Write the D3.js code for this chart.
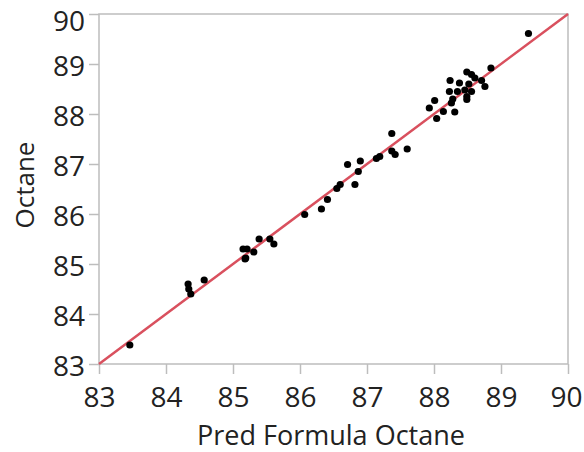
<!DOCTYPE html>
<html>
<head>
<meta charset="utf-8">
<script src="https://cdn.jsdelivr.net/npm/d3@7"></script>
<style>
  html, body { margin: 0; padding: 0; background: #fff; }
  svg { display: block; }
  .tick text { font-family: "Open Sans", "Noto Sans", sans-serif; }
</style>
</head>
<body>
<svg id="chart" width="584" height="452"></svg>
<script>
// Predicted octane from the formula column vs. measured octane
const predOctane = [
  83.46, 84.33, 84.34, 84.37, 84.57,
  85.15, 85.19, 85.21, 85.31, 85.39, 85.55, 85.61, 85.18,
  86.07, 86.32, 86.41, 86.55, 86.60, 86.71, 86.82, 86.87, 86.90,
  87.14, 87.19, 87.37, 87.37, 87.42, 87.60,
  87.93, 88.01, 88.04, 88.14, 88.23, 88.24, 88.26, 88.31, 88.35, 88.38,
  88.46, 88.49, 88.49, 88.49, 88.56, 88.56, 88.61, 88.71, 88.76, 88.85,
  88.28, 88.52, 89.41
];
const octane = [
  83.38, 84.60, 84.50, 84.40, 84.68,
  85.30, 85.12, 85.30, 85.24, 85.50, 85.50, 85.40, 85.10,
  85.99, 86.10, 86.29, 86.51, 86.59, 86.99, 86.59, 86.85, 87.06,
  87.11, 87.15, 87.61, 87.26, 87.19, 87.30,
  88.12, 88.27, 87.91, 88.05, 88.45, 88.67, 88.22, 88.04, 88.45, 88.62,
  88.48, 88.84, 88.35, 88.29, 88.79, 88.45, 88.72, 88.67, 88.55, 88.92,
  88.30, 88.60, 89.61
];
const xTicks = [83, 84, 85, 86, 87, 88, 89, 90];
const yTicks = [83, 84, 85, 86, 87, 88, 89, 90];
const lineEnds = [83, 90];

const svg = d3.select("#chart");
const plotLeft = 99, plotRight = 568, plotTop = 14, plotBottom = 364;

const x = d3.scaleLinear().domain([83, 90]).range([plotLeft, plotRight]);
const y = d3.scaleLinear().domain([83, 90]).range([plotBottom, plotTop]);

const gridColor = "#bdbdbd";
const textColor = "#222";

// plot frame
svg.append("rect")
  .attr("x", plotLeft).attr("y", plotTop)
  .attr("width", plotRight - plotLeft).attr("height", plotBottom - plotTop)
  .attr("fill", "none").attr("stroke", gridColor).attr("stroke-width", 1.5);

// axes
const xAxis = svg.append("g")
  .attr("transform", `translate(0,${plotBottom})`)
  .call(d3.axisBottom(x).tickValues(xTicks).tickFormat(d3.format("d")).tickSize(10).tickPadding(13));
const yAxis = svg.append("g")
  .attr("transform", `translate(${plotLeft},0)`)
  .call(d3.axisLeft(y).tickValues(yTicks).tickFormat(d3.format("d")).tickSize(10).tickPadding(4));

[xAxis, yAxis].forEach(g => {
  g.select(".domain").remove();
  g.selectAll(".tick line").attr("stroke", gridColor).attr("stroke-width", 1.5);
  g.selectAll(".tick text").attr("fill", textColor).style("font-size", "28px");
});
// vertical centring on the tick; the top label is nudged down to stay inside the page
yAxis.selectAll(".tick text")
  .attr("dy", "0.36em")
  .attr("y", d => d === d3.max(yTicks) ? 6 : 1);
xAxis.selectAll(".tick text")
  .attr("x", d => d === d3.max(xTicks) ? -2 : 0);

// 1:1 reference line
svg.append("line")
  .attr("x1", x(lineEnds[0])).attr("y1", y(lineEnds[0]))
  .attr("x2", x(lineEnds[1])).attr("y2", y(lineEnds[1]))
  .attr("stroke", "#d9505e").attr("stroke-width", 2.5);

// observations
svg.append("g").selectAll("circle")
  .data(predOctane.map((p, i) => [p, octane[i]]))
  .join("circle")
  .attr("cx", d => x(d[0]))
  .attr("cy", d => y(d[1]))
  .attr("r", 3.6)
  .attr("fill", "#000");

// axis titles
svg.append("text")
  .attr("x", 331).attr("y", 445)
  .attr("text-anchor", "middle")
  .attr("fill", textColor)
  .style("font-family", "'Open Sans', 'Noto Sans', sans-serif")
  .style("font-size", "27px")
  .text("Pred Formula Octane");

svg.append("text")
  .attr("transform", "translate(34,185) rotate(-90)")
  .attr("text-anchor", "middle")
  .attr("fill", textColor)
  .style("font-family", "'Open Sans', 'Noto Sans', sans-serif")
  .style("font-size", "26px")
  .text("Octane");
</script>
</body>
</html>
